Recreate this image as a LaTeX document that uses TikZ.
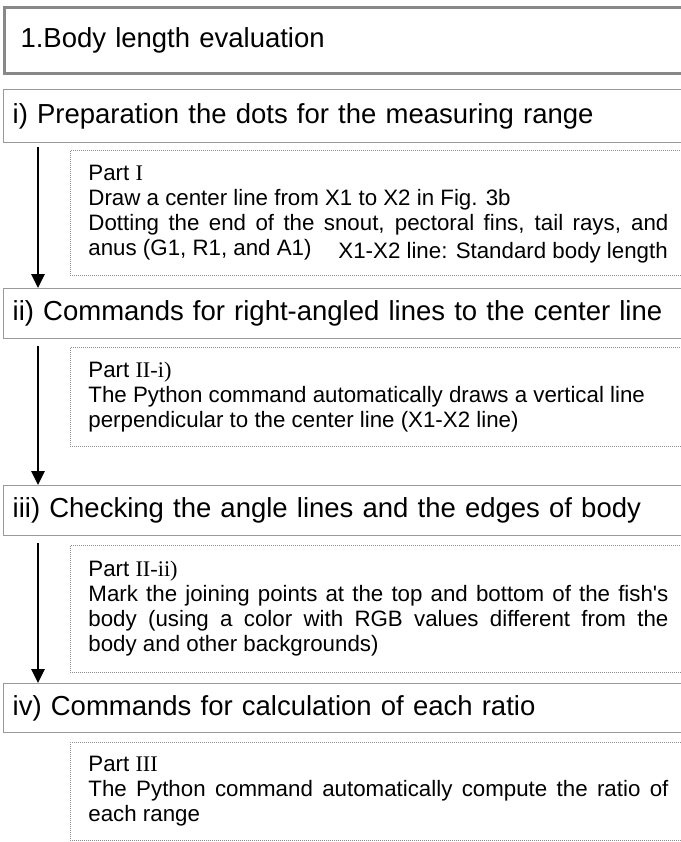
\documentclass[tikz,border=0pt]{standalone}
\usepackage{fontspec}
\setmainfont{Liberation Sans}
\newfontfamily\serifpart{Liberation Serif}
\usetikzlibrary{arrows.meta}
\definecolor{framegray}{HTML}{888888}
\definecolor{boxgray}{HTML}{999999}
\definecolor{dotgray}{HTML}{8C8C8C}
\begin{document}
\begin{tikzpicture}[x=1pt,y=-1pt,
  titlebox/.style={draw=framegray,line width=3pt,anchor=north west,inner xsep=16pt,
    text width=655pt,align=left,font=\fontsize{27.5}{32}\selectfont},
  headbox/.style={draw=boxgray,line width=1.4pt,anchor=north west,inner xsep=9pt,
    text width=669pt,align=left,font=\fontsize{27.5}{32}\selectfont},
  notebox/.style={draw=dotgray,line width=0.9pt,dash pattern=on 0.9pt off 1.1pt,anchor=north west,
    inner xsep=18pt,inner ysep=0pt,text width=580pt,align=justify,
    font=\fontsize{22.3}{25}\selectfont},
  flowarrow/.style={line width=2.6pt,-{Triangle[length=14pt,width=13pt]}}
]
\useasboundingbox (0,0) rectangle (680,842);
\coordinate (ax) at (38,0);

\node[titlebox,minimum height=66pt] (title) at (3,6) {1.Body length evaluation};

\node[headbox,minimum height=53pt] (s1) at (3,89) {i) Preparation the dots for the measuring range};
\node[notebox,minimum height=125pt] (n1) at (70,150) {Part {\serifpart I}\\
Draw a center line from X1 to X2 in Fig. 3b\\
Dotting the end of the snout, pectoral fins, tail rays, and\linebreak anus (G1, R1, and A1)};
\node[anchor=base east,inner sep=0pt,font=\fontsize{22.3}{25}\selectfont] (x12) at (668,258) {X1-X2 line: Standard body length};

\node[headbox,minimum height=50pt] (s2) at (3,288) {ii) Commands for right-angled lines to the center line};
\node[notebox,minimum height=99pt] (n2) at (70,347) {Part {\serifpart II-i)}\\
The Python command automatically draws a vertical line\\
perpendicular to the center line (X1-X2 line)};

\node[headbox,minimum height=50pt] (s3) at (3,485) {iii) Checking the angle lines and the edges of body};
\node[notebox,minimum height=127pt] (n3) at (70,545) {Part {\serifpart II-ii)}\\
Mark the joining points at the top and bottom of the fish\textquotesingle s\linebreak
body (using a color with RGB values different from the\linebreak
body and other backgrounds)};

\node[headbox,minimum height=49pt] (s4) at (3,683) {iv) Commands for calculation of each ratio};
\node[notebox,minimum height=98pt] (n4) at (70,742) {Part {\serifpart III}\\
The Python command automatically compute the ratio of\linebreak
each range};

\draw[flowarrow] ([yshift=-4pt]s1.south -| ax) -- (s2.north -| ax);
\draw[flowarrow] ([yshift=-7pt]s2.south -| ax) -- (s3.north -| ax);
\draw[flowarrow] ([yshift=-7pt]s3.south -| ax) -- (s4.north -| ax);
\end{tikzpicture}
\end{document}
